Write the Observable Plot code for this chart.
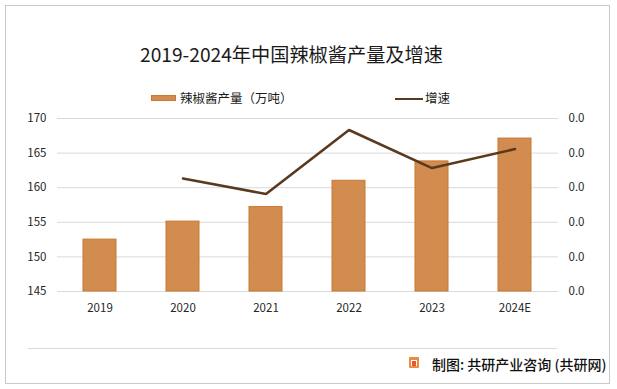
<!DOCTYPE html>
<html>
<head>
<meta charset="utf-8">
<script src="https://cdn.jsdelivr.net/npm/d3@7"></script>
<script src="https://cdn.jsdelivr.net/npm/@observablehq/plot@0.6"></script>
<style>
  html, body { margin: 0; padding: 0; background: #fff; }
  body { font-family: "Noto Sans CJK SC", "Noto Sans", sans-serif; }
  #wrap { position: relative; width: 617px; height: 389px; overflow: hidden; background: #fff; }
  #frame { position: absolute; left: 5px; top: 5px; width: 603px; height: 377px; border: 1px solid #c9c9c9; box-sizing: content-box; }
  #chart { position: absolute; left: 0; top: 0; }
  .abs { position: absolute; white-space: nowrap; }
  #title { left: 140px; top: 42px; font-size: 19.2px; line-height: 24px; color: #1a1a1a; }
  .legtext { font-size: 12.5px; line-height: 16px; color: #1a1a1a; }
  #caption { left: 432px; top: 354px; font-size: 14px; line-height: 20px; color: #111; font-weight: 500; }
  #sep { left: 28px; top: 348px; width: 529px; height: 1px; background: #d9d9d9; }
</style>
</head>
<body>
<div id="wrap">
  <div id="frame"></div>
  <div id="chart"></div>
</div>
<script>
// ---- data ----
const years = ["2019", "2020", "2021", "2022", "2023", "2024E"];
const output = [152.5, 155.1, 157.2, 161.0, 163.8, 167.1];      // 辣椒酱产量（万吨）
const growth = [null, 0.0196, 0.0169, 0.0280, 0.0214, 0.0247];   // 增速
const leftTicks = [145, 150, 155, 160, 165, 170];
const rightDomain = [0, 0.03];
const titleText = "2019-2024年中国辣椒酱产量及增速";
const legendBar = "辣椒酱产量（万吨）";
const legendLine = "增速";
const captionText = "制图: 共研产业咨询 (共研网)";

// ---- styles ----
const barFill = "#d38c50";
const barStroke = "#c8782f";
const lineColor = "#5a3a1f";
const gridColor = "#d9d9d9";
const tickColor = "#262626";

const data = years.map((y, i) => ({year: y, output: output[i], growth: growth[i]}));
const yMin = leftTicks[0], yMax = leftTicks[leftTicks.length - 1];
const toLeft = g => yMin + (g - rightDomain[0]) / (rightDomain[1] - rightDomain[0]) * (yMax - yMin);
const toRight = v => rightDomain[0] + (v - yMin) / (yMax - yMin) * (rightDomain[1] - rightDomain[0]);

const chart = Plot.plot({
  width: 617,
  height: 389,
  marginLeft: 57,
  marginRight: 59,
  marginTop: 118,
  marginBottom: 98,
  style: {fontFamily: '"Noto Sans CJK SC", "Noto Sans", sans-serif', fontSize: "11.5px", color: tickColor, background: "transparent"},
  x: {type: "band", domain: years, paddingInner: 0.6, paddingOuter: 0.3},
  y: {domain: [yMin, yMax]},
  marks: [
    Plot.ruleY(leftTicks, {stroke: gridColor, strokeWidth: 1}),
    Plot.barY(data, {x: "year", y1: yMin, y2: "output", fill: barFill, stroke: barStroke, strokeWidth: 1}),
    Plot.line(data.filter(d => d.growth != null), {x: "year", y: d => toLeft(d.growth), stroke: lineColor, strokeWidth: 2.6, strokeLinejoin: "miter", curve: "linear"}),
    Plot.axisY({anchor: "left", ticks: leftTicks, tickSize: 0, tickPadding: 11, label: null, fill: tickColor}),
    Plot.axisY({anchor: "right", ticks: leftTicks, tickSize: 0, tickPadding: 10, label: null, fill: tickColor,
      tickFormat: v => d3.format(".1f")(toRight(v))}),
    Plot.axisX({tickSize: 0, tickPadding: 12, label: null, fill: tickColor})
  ]
});
document.getElementById("chart").appendChild(chart);

const wrap = document.getElementById("wrap");
function addDiv(id, cls, text, css) {
  const d = document.createElement("div");
  if (id) d.id = id;
  d.className = "abs " + (cls || "");
  if (text != null) d.textContent = text;
  Object.assign(d.style, css || {});
  wrap.appendChild(d);
  return d;
}
addDiv("title", "", titleText);
// legend
addDiv(null, "", null, {left: "151px", top: "95px", width: "25px", height: "6px", background: barFill, border: "0.5px solid " + barStroke, boxSizing: "border-box"});
addDiv(null, "legtext", legendBar, {left: "180px", top: "90px"});
addDiv(null, "", null, {left: "395px", top: "97.5px", width: "28px", height: "2.6px", background: lineColor});
addDiv(null, "legtext", legendLine, {left: "425px", top: "90px"});
// footer
addDiv("sep", "", null);
const icon = addDiv(null, "", null, {left: "409px", top: "357px", width: "10px", height: "11px", background: "#f08a3c", borderRadius: "1px"});
icon.innerHTML = '<div style="position:absolute;left:2px;top:3px;width:6px;height:6px;background:#fff"></div><div style="position:absolute;left:3px;top:4px;width:4px;height:5px;background:#e0573a"></div>';
addDiv("caption", "", captionText);
</script>
</body>
</html>
